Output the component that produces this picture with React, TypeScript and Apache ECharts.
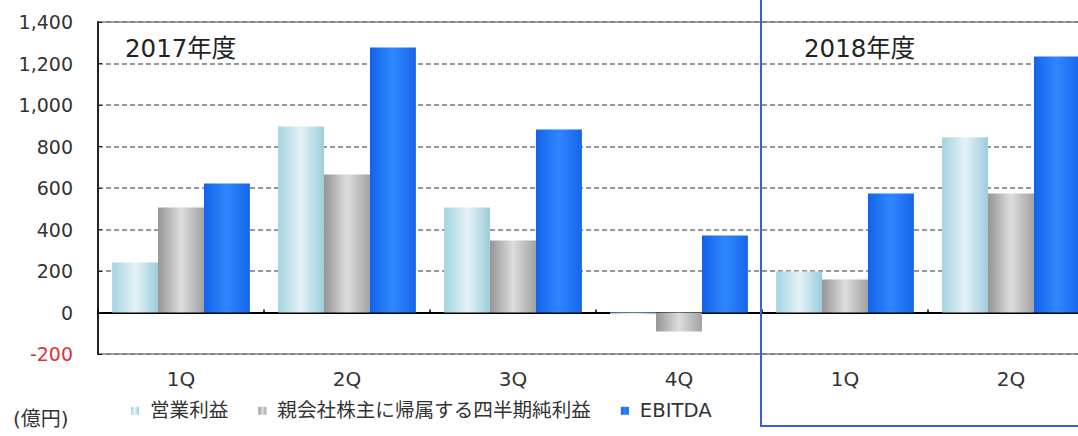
import React, { useEffect, useRef } from "react";
import * as echarts from "echarts";

const categories = ["1Q", "2Q", "3Q", "4Q", "1Q", "2Q"];
const operatingProfit = [241, 896, 506, -8, 198, 845];
const netProfit = [506, 665, 347, -92, 159, 573];
const ebitda = [622, 1277, 882, 371, 573, 1234];
const seriesNames = ["営業利益", "親会社株主に帰属する四半期純利益", "EBITDA"];
const yTicks = { min: -200, max: 1400, interval: 200 };

const FONT = "DejaVu Sans, 'Noto Sans CJK JP', sans-serif";

function grad(a: string, b: string, c: string) {
  return new echarts.graphic.LinearGradient(0, 0, 1, 0, [
    { offset: 0, color: a },
    { offset: 0.5, color: b },
    { offset: 1, color: c },
  ]);
}

export default function App() {
  const ref = useRef<HTMLDivElement>(null);
  useEffect(() => {
    document.body.style.margin = "0";
    const chart = echarts.init(ref.current!, undefined, { renderer: "svg" });
    chart.setOption({
      animation: false,
      backgroundColor: "#ffffff",
      textStyle: { fontFamily: FONT },
      grid: {
        left: 98,
        top: 22,
        width: 996,
        height: 332,
        outerBoundsMode: "none",
        containLabel: false,
        show: true,
        borderColor: "#8a8a8a",
        borderWidth: 1.5,
      },
      legend: {
        left: 126,
        top: 396,
        itemWidth: 20,
        itemHeight: 8,
        itemGap: 30,
        icon: "path://M0,0H8V8H0Z",
        symbolKeepAspect: true,
        textStyle: { fontSize: 19.6, color: "#333", fontFamily: FONT },
        data: seriesNames,
      },
      xAxis: [
        {
          type: "category",
          data: categories,
          position: "bottom",
          axisLine: { show: false, onZero: false },
          axisTick: { show: false },
          axisLabel: { margin: 15, fontSize: 20, color: "#333" },
        },
        {
          type: "category",
          data: categories,
          position: "bottom",
          axisLine: { show: true, onZero: true, lineStyle: { color: "#000", width: 2 } },
          axisTick: { show: true, inside: true, length: 3, lineStyle: { color: "#000", width: 1.5 } },
          axisLabel: { show: false },
        },
      ],
      yAxis: {
        type: "value",
        min: yTicks.min,
        max: yTicks.max,
        interval: yTicks.interval,
        axisLine: { show: true, lineStyle: { color: "#222", width: 2 } },
        axisTick: { show: true, inside: true, length: 4, lineStyle: { color: "#222" } },
        axisLabel: {
          fontSize: 19,
          color: "#333",
          margin: 25,
          formatter: (v: number) => {
            const s = v.toLocaleString("en-US");
            return v < 0 ? "{neg|" + s + "}" : s;
          },
          rich: { neg: { color: "#e0303a", fontSize: 19, fontFamily: FONT } },
        },
        splitLine: { show: true, lineStyle: { color: "#777", type: [5, 3], width: 1.5 } },
      },
      series: [
        {
          name: seriesNames[0],
          type: "bar",
          data: operatingProfit,
          barGap: "0%",
          barCategoryGap: "17%",
          itemStyle: { color: grad("#a3d3e1", "#e4f3f7", "#9ccddc") },
        },
        {
          name: seriesNames[1],
          type: "bar",
          data: netProfit,
          barGap: "0%",
          barCategoryGap: "17%",
          itemStyle: { color: grad("#959595", "#dddddd", "#a2a2a2") },
        },
        {
          name: seriesNames[2],
          type: "bar",
          data: ebitda,
          barGap: "0%",
          barCategoryGap: "17%",
          itemStyle: { color: grad("#1462ea", "#2f88ff", "#1665ea") },
        },
      ],
      graphic: [
        {
          type: "text",
          left: 125,
          top: 36,
          style: { text: "2017年度", fontSize: 24.5, fill: "#222", fontFamily: FONT },
        },
        {
          type: "text",
          left: 804,
          top: 36,
          style: { text: "2018年度", fontSize: 24.5, fill: "#222", fontFamily: FONT },
        },
        {
          type: "text",
          left: 13,
          top: 409,
          style: { text: "(億円)", fontSize: 20, fill: "#333", fontFamily: FONT },
        },
        {
          type: "rect",
          shape: { x: 761, y: -4, width: 400, height: 430 },
          style: { fill: "none", stroke: "#3a5de0", lineWidth: 2 },
          z: 100,
        },
      ],
    });
    return () => chart.dispose();
  }, []);
  return <div ref={ref} style={{ width: 1078, height: 436 }} />;
}
